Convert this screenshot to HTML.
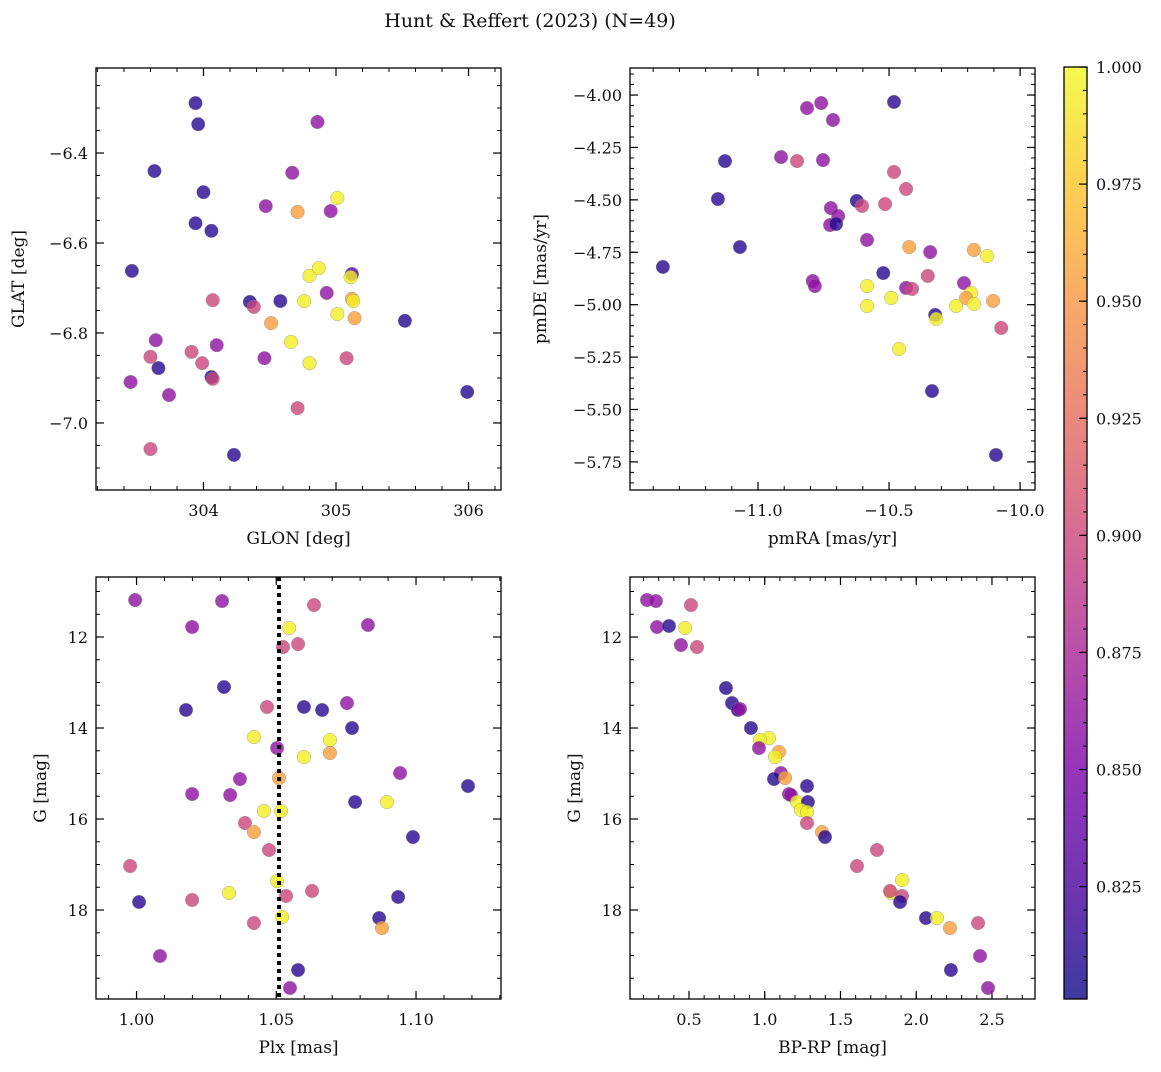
<!DOCTYPE html>
<html><head><meta charset="utf-8"><style>
body{margin:0;background:#fff}
svg text{font-family:"DejaVu Serif","Liberation Serif",serif;fill:#111}
</style></head><body>
<svg id="fig" width="1161" height="1067" xmlns="http://www.w3.org/2000/svg">
<defs>
<linearGradient id="plasma" x1="0" y1="1" x2="0" y2="0">
<stop offset="0" stop-color="#0d0887"/><stop offset="0.125" stop-color="#4c02a1"/><stop offset="0.25" stop-color="#7e03a8"/><stop offset="0.375" stop-color="#a92395"/><stop offset="0.5" stop-color="#cc4778"/><stop offset="0.625" stop-color="#e66c5c"/><stop offset="0.75" stop-color="#f89540"/><stop offset="0.875" stop-color="#fdc527"/><stop offset="1" stop-color="#f0f921"/>
</linearGradient>
</defs>
<text x="530" y="27" font-size="19" text-anchor="middle">Hunt &amp; Reffert (2023) (N=49)</text>
</svg>
<script>
// Panel 1: GLON / GLAT
const p1Glon=[303.94,303.96,304.86,303.63,304.00,304.67,304.47,304.71,305.01,304.96,303.94,304.06,303.46,304.80,304.87,305.12,305.11,304.93,305.12,305.13,304.76,304.07,304.35,304.58,304.38,305.01,305.52,304.51,305.14,303.64,304.10,304.66,303.91,303.60,303.99,304.46,304.80,305.08,303.66,303.45,304.06,304.07,303.74,304.71,305.99,303.60,304.23];
const p1Glat=[-6.289,-6.336,-6.331,-6.440,-6.487,-6.444,-6.518,-6.531,-6.500,-6.529,-6.556,-6.573,-6.662,-6.673,-6.656,-6.669,-6.676,-6.711,-6.724,-6.729,-6.729,-6.727,-6.731,-6.729,-6.742,-6.758,-6.773,-6.778,-6.767,-6.816,-6.827,-6.820,-6.842,-6.853,-6.867,-6.856,-6.867,-6.856,-6.878,-6.909,-6.898,-6.902,-6.938,-6.967,-6.931,-7.058,-7.071];
const p1Prob=[0.81,0.81,0.86,0.81,0.81,0.86,0.86,0.955,0.995,0.86,0.81,0.81,0.81,0.995,0.995,0.83,0.995,0.86,0.955,0.995,0.995,0.90,0.81,0.81,0.90,0.995,0.81,0.955,0.955,0.86,0.86,0.995,0.90,0.90,0.90,0.86,0.995,0.90,0.81,0.86,0.81,0.90,0.86,0.90,0.81,0.90,0.81];
// Panel 2: pmRA / pmDE
const p2Pmra=[-10.813,-10.759,-10.481,-10.714,-11.126,-10.912,-10.851,-10.752,-11.153,-10.623,-10.603,-10.515,-10.481,-10.435,-10.722,-10.694,-10.725,-10.702,-10.584,-11.069,-10.423,-10.343,-10.176,-10.126,-11.363,-10.522,-10.352,-10.791,-10.783,-10.584,-10.214,-10.435,-10.412,-10.187,-10.206,-10.492,-10.176,-10.103,-10.584,-10.244,-10.324,-10.320,-10.072,-10.462,-10.336,-10.092];
const p2Pmde=[-4.062,-4.038,-4.033,-4.119,-4.315,-4.296,-4.315,-4.310,-4.496,-4.505,-4.529,-4.520,-4.367,-4.448,-4.539,-4.577,-4.620,-4.615,-4.691,-4.725,-4.725,-4.749,-4.739,-4.768,-4.820,-4.849,-4.863,-4.887,-4.911,-4.911,-4.897,-4.920,-4.925,-4.944,-4.968,-4.968,-4.997,-4.982,-5.006,-5.006,-5.049,-5.068,-5.111,-5.211,-5.412,-5.717];
const p2Prob=[0.86,0.86,0.81,0.86,0.81,0.86,0.90,0.86,0.81,0.81,0.90,0.90,0.90,0.90,0.86,0.86,0.86,0.81,0.86,0.81,0.955,0.86,0.955,0.995,0.81,0.81,0.90,0.86,0.86,0.995,0.86,0.86,0.90,0.995,0.955,0.995,0.995,0.955,0.995,0.995,0.81,0.995,0.90,0.995,0.81,0.81];
// Panel 3: Plx / G
const p3Plx=[0.9995,1.0306,1.0635,1.0199,1.0546,1.0828,1.0524,1.0578,1.0313,1.0177,1.0599,1.0664,1.0753,1.0771,1.0467,1.0420,1.0599,1.0692,1.0692,1.0503,1.0943,1.0370,1.0510,1.0199,1.0335,1.0782,1.0896,1.0456,1.0517,1.0388,1.0420,1.0989,1.1186,1.0474,0.9977,1.0331,1.0503,1.0535,1.0628,1.0009,1.0199,1.0420,1.0521,1.0936,1.0868,1.0878,1.0084,1.0578,1.0549];
const p3G=[11.187,11.209,11.297,11.780,11.802,11.736,12.220,12.154,13.099,13.604,13.538,13.604,13.451,14.000,13.538,14.198,14.637,14.264,14.549,14.440,14.989,15.121,15.099,15.451,15.473,15.626,15.626,15.824,15.824,16.088,16.286,16.396,15.275,16.681,17.033,17.626,17.363,17.692,17.582,17.824,17.780,18.286,18.154,17.714,18.176,18.396,19.011,19.319,19.714];
const p3Prob=[0.86,0.86,0.90,0.86,0.995,0.86,0.90,0.90,0.81,0.81,0.81,0.81,0.86,0.81,0.90,0.995,0.995,0.995,0.955,0.86,0.86,0.86,0.955,0.86,0.86,0.81,0.995,0.995,0.995,0.90,0.955,0.81,0.81,0.90,0.90,0.995,0.995,0.90,0.90,0.81,0.90,0.90,0.995,0.81,0.81,0.955,0.86,0.81,0.86];
const plxRef=[1.051];
// Panel 4: BP-RP / G
const p4Bprp=[0.223,0.282,0.513,0.289,0.368,0.474,0.447,0.553,0.744,0.784,0.823,0.837,0.909,1.028,0.969,1.094,1.068,0.962,1.107,1.061,1.134,1.160,1.173,1.279,1.213,1.285,1.239,1.279,1.279,1.378,1.398,1.609,1.741,1.833,1.906,1.906,1.827,1.893,2.064,2.137,2.223,2.408,2.421,2.229,2.474];
const p4G=[11.187,11.209,11.297,11.780,11.758,11.802,12.176,12.220,13.121,13.451,13.604,13.582,14.000,14.220,14.264,14.527,14.637,14.440,14.989,15.121,15.099,15.451,15.473,15.275,15.626,15.626,15.802,15.846,16.088,16.286,16.396,17.033,16.681,17.626,17.341,17.692,17.582,17.824,18.176,18.176,18.396,18.286,19.011,19.319,19.714];
const p4Prob=[0.86,0.86,0.90,0.86,0.81,0.995,0.86,0.90,0.81,0.81,0.81,0.86,0.81,0.995,0.995,0.955,0.995,0.86,0.86,0.81,0.955,0.86,0.86,0.81,0.995,0.81,0.995,0.995,0.90,0.955,0.81,0.90,0.90,0.995,0.995,0.90,0.90,0.81,0.81,0.995,0.955,0.90,0.86,0.81,0.86];
// Colorbar
const cbTicks=[0.825,0.850,0.875,0.900,0.925,0.950,0.975,1.000];
const cbMin=0.801, cbMax=1.0;

const NS='http://www.w3.org/2000/svg';
const svg=document.getElementById('fig');
function mk(tag,attrs,parent){const e=document.createElementNS(NS,tag);for(const k in attrs)e.setAttribute(k,attrs[k]);(parent||svg).appendChild(e);return e;}
const stops=[[0,13,8,135],[0.125,76,2,161],[0.25,126,3,168],[0.375,169,35,149],[0.5,204,71,120],[0.625,230,108,92],[0.75,248,149,64],[0.875,253,197,39],[1,240,249,33]];
function plasma(p){let t=Math.max(0,Math.min(1,(p-cbMin)/(cbMax-cbMin)));for(let i=0;i<stops.length-1;i++){const a=stops[i],b=stops[i+1];if(t<=b[0]){const f=(t-a[0])/(b[0]-a[0]);return `rgb(${Math.round(a[1]+f*(b[1]-a[1]))},${Math.round(a[2]+f*(b[2]-a[2]))},${Math.round(a[3]+f*(b[3]-a[3]))})`;}}return 'rgb(240,249,33)';}
const fmtMinus=s=>s.replace('-','−');

function panel(cfg){
  const {name,x0,x1,y0,y1,xmin,xmax,ymin,ymax,xs,ys,ps,xMaj,xMin,yMaj,yMin,xFmt,yFmt,xLabel,yLabel,yInv}=cfg;
  const g=mk('g',{});
  
  
  const sx=v=>x0+(v-xmin)/(xmax-xmin)*(x1-x0);
  const sy=yInv?(v=>y0+(v-ymin)/(ymax-ymin)*(y1-y0)):(v=>y1-(v-ymin)/(ymax-ymin)*(y1-y0));
  const eps=1e-9;
  for(let v=Math.ceil(xmin/xMin-eps)*xMin;v<=xmax+eps;v+=xMin){const X=sx(v);mk('line',{x1:X,x2:X,y1:y1,y2:y1-4,stroke:'#000','stroke-width':1},g);mk('line',{x1:X,x2:X,y1:y0,y2:y0+4,stroke:'#000','stroke-width':1},g);}
  for(let v=Math.ceil(ymin/yMin-eps)*yMin;v<=ymax+eps;v+=yMin){const Y=sy(v);mk('line',{x1:x0,x2:x0+4,y1:Y,y2:Y,stroke:'#000','stroke-width':1},g);mk('line',{x1:x1,x2:x1-4,y1:Y,y2:Y,stroke:'#000','stroke-width':1},g);}
  for(const v of xMaj){const X=sx(v);mk('line',{x1:X,x2:X,y1:y1,y2:y1-8,stroke:'#000','stroke-width':1.2},g);mk('line',{x1:X,x2:X,y1:y0,y2:y0+8,stroke:'#000','stroke-width':1.2},g);
    const t=mk('text',{x:X,y:y1+26,'font-size':16,'text-anchor':'middle'},g);t.textContent=xFmt(v);
    
    }
  for(const v of yMaj){const Y=sy(v);mk('line',{x1:x0,x2:x0+8,y1:Y,y2:Y,stroke:'#000','stroke-width':1.2},g);mk('line',{x1:x1,x2:x1-8,y1:Y,y2:Y,stroke:'#000','stroke-width':1.2},g);
    const t=mk('text',{x:x0-8,y:Y+6,'font-size':16,'text-anchor':'end'},g);t.textContent=yFmt(v);
    
    }
  for(let i=0;i<xs.length;i++){
    const c=mk('circle',{cx:sx(xs[i]),cy:sy(ys[i]),r:6.8,fill:plasma(ps[i]),'fill-opacity':0.8,stroke:'#888','stroke-width':0.5,'stroke-opacity':0.7},g);
    
    
  }
  if(cfg.vline){for(const v of cfg.vline){const l=mk('line',{x1:sx(v),x2:sx(v),y1:y0,y2:y1,stroke:'#000','stroke-width':4,'stroke-dasharray':'4,4'},g);
    
    }}
  const fr=mk('rect',{x:x0,y:y0,width:x1-x0,height:y1-y0,fill:'none',stroke:'#000','stroke-width':1.3},g);
  
  
  const xl=mk('text',{x:(x0+x1)/2,y:y1+54,'font-size':17,'text-anchor':'middle'},g);xl.textContent=xLabel;
  
  
  const yc=(y0+y1)/2, yx=cfg.yLabX;
  const yl=mk('text',{x:yx,y:yc,'font-size':17,'text-anchor':'middle',transform:`rotate(-90 ${yx} ${yc})`},g);yl.textContent=yLabel;
  
  
}

panel({name:'glon-glat-panel',x0:96,x1:501,y0:68,y1:490,xmin:303.189,xmax:306.245,ymin:-7.149,ymax:-6.211,xs:p1Glon,ys:p1Glat,ps:p1Prob,
 xMaj:[304,305,306],xMin:0.2,yMaj:[-6.4,-6.6,-6.8,-7.0],yMin:0.05,xFmt:v=>String(v),yFmt:v=>fmtMinus(v.toFixed(1)),xLabel:'GLON [deg]',yLabel:'GLAT [deg]',yLabX:24});
panel({name:'proper-motion-panel',x0:630,x1:1035,y0:68,y1:490,xmin:-11.4885,xmax:-9.943,ymin:-5.884,ymax:-3.871,xs:p2Pmra,ys:p2Pmde,ps:p2Prob,
 xMaj:[-11,-10.5,-10],xMin:0.1,yMaj:[-4,-4.25,-4.5,-4.75,-5,-5.25,-5.5,-5.75],yMin:0.05,xFmt:v=>fmtMinus(v.toFixed(1)),yFmt:v=>fmtMinus(v.toFixed(2)),xLabel:'pmRA [mas/yr]',yLabel:'pmDE [mas/yr]',yLabX:546});
panel({name:'parallax-magnitude-panel',x0:96,x1:501,y0:577,y1:999,xmin:0.9855,xmax:1.1304,ymin:10.681,ymax:19.956,yInv:true,xs:p3Plx,ys:p3G,ps:p3Prob,vline:plxRef,
 xMaj:[1.0,1.05,1.1],xMin:0.01,yMaj:[12,14,16,18],yMin:0.5,xFmt:v=>v.toFixed(2),yFmt:v=>String(v),xLabel:'Plx [mas]',yLabel:'G [mag]',yLabX:46});
panel({name:'color-magnitude-panel',x0:630,x1:1035,y0:577,y1:999,xmin:0.1106,xmax:2.784,ymin:10.681,ymax:19.956,yInv:true,xs:p4Bprp,ys:p4G,ps:p4Prob,
 xMaj:[0.5,1.0,1.5,2.0,2.5],xMin:0.1,yMaj:[12,14,16,18],yMin:0.5,xFmt:v=>v.toFixed(1),yFmt:v=>String(v),xLabel:'BP-RP [mag]',yLabel:'G [mag]',yLabX:580});

const cb=mk('g',{});


const cbx=1064,cbw=23,cby0=67,cby1=999;
mk('rect',{x:cbx,y:cby0,width:cbw,height:cby1-cby0,fill:'url(#plasma)','fill-opacity':0.8},cb);
mk('rect',{x:cbx,y:cby0,width:cbw,height:cby1-cby0,fill:'none',stroke:'#000','stroke-width':1.3},cb);
const cy=v=>cby1-(v-cbMin)/(cbMax-cbMin)*(cby1-cby0);
for(let v=0.805;v<=1.0001;v+=0.005){mk('line',{x1:cbx+cbw,x2:cbx+cbw-4,y1:cy(v),y2:cy(v),stroke:'#000','stroke-width':1},cb);}
for(const v of cbTicks){const Y=cy(v);mk('line',{x1:cbx+cbw,x2:cbx+cbw-8,y1:Y,y2:Y,stroke:'#000','stroke-width':1.2},cb);
  const t=mk('text',{x:cbx+cbw+9,y:Y+6,'font-size':16},cb);t.textContent=v.toFixed(3);
  
  }
</script>
</body></html>
